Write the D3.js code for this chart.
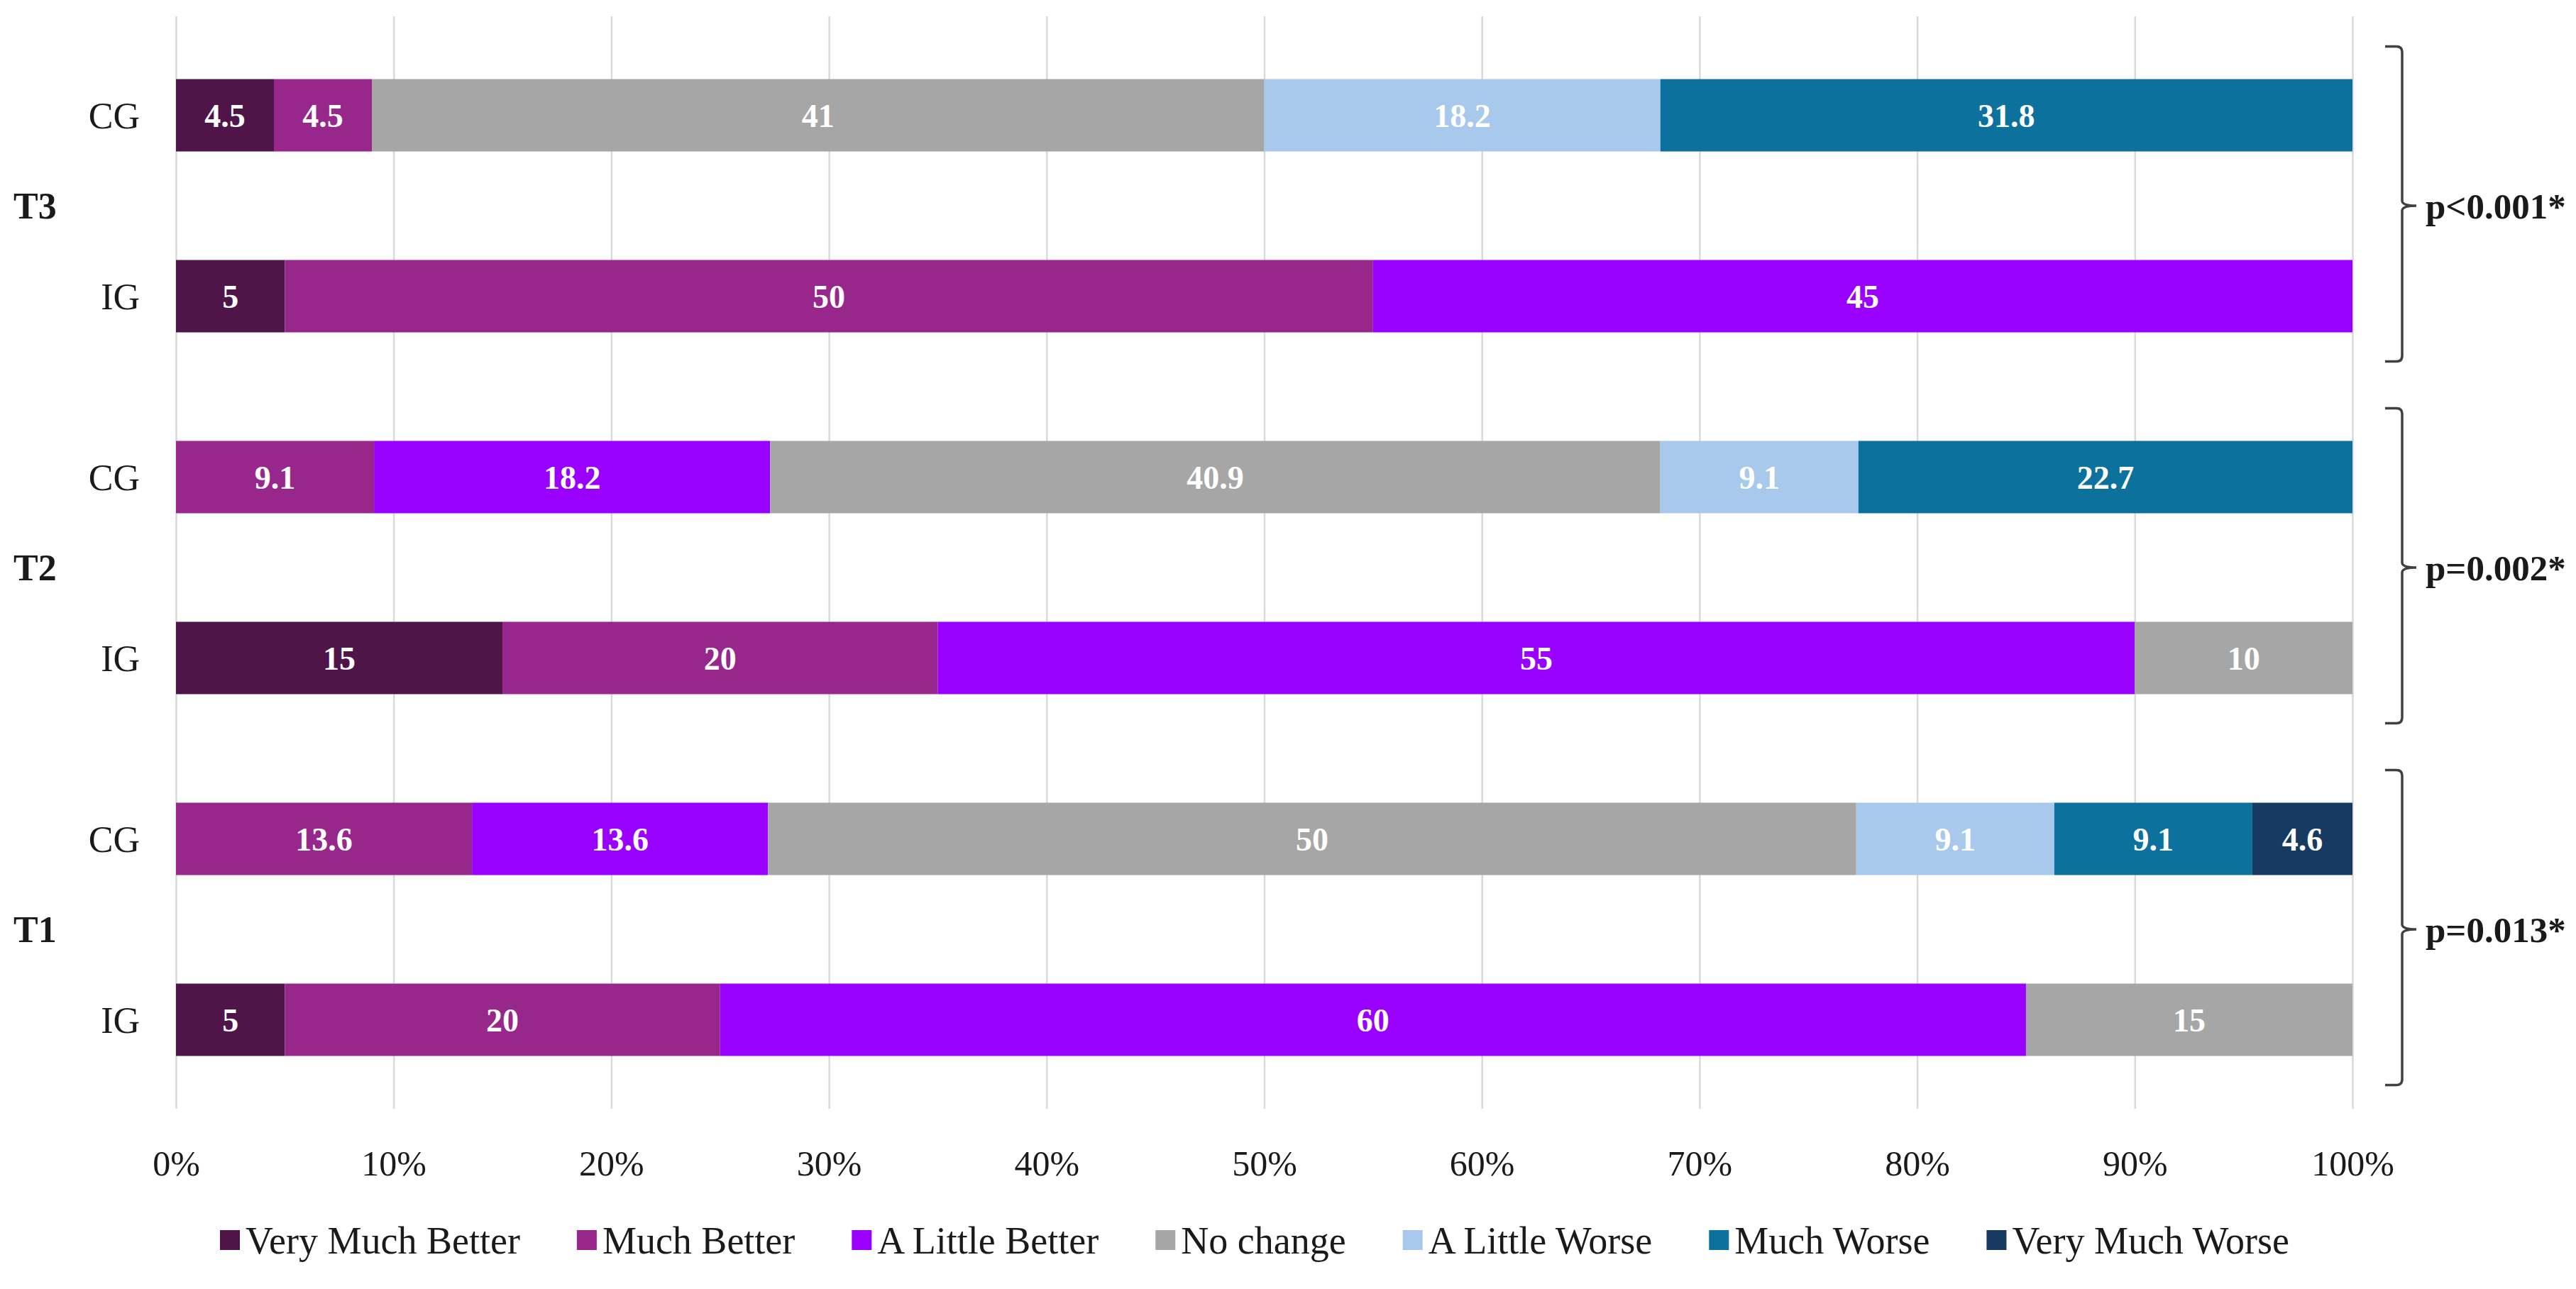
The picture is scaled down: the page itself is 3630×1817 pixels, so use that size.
<!DOCTYPE html>
<html>
<head>
<meta charset="utf-8">
<script src="https://cdn.jsdelivr.net/npm/d3@7"></script>
<style>
  body { margin: 0; background: #fff; }
  text { font-family: 'Liberation Serif', 'DejaVu Serif', serif; }
</style>
</head>
<body>
<div class="canvas"></div>
<script>
// rows from top to bottom
const rows = ['T3 CG', 'T3 IG', 'T2 CG', 'T2 IG', 'T1 CG', 'T1 IG']
const groupLabels = ['CG', 'IG', 'CG', 'IG', 'CG', 'IG']
const times = ['T3', 'T2', 'T1']
const pValues = ['p<0.001*', 'p=0.002*', 'p=0.013*']

const responses = ['Very Much Better', 'Much Better', 'A Little Better', 'No change',
    'A Little Worse', 'Much Worse', 'Very Much Worse']
const colors = ['#4f1549', '#97278b', '#9900ff', '#a6a6a6', '#a8c9eb', '#0c729d', '#163a62']

// percent per row, same order as rows
const veryMuchBetter = [4.5, 5, 0, 15, 0, 5]
const muchBetter = [4.5, 50, 9.1, 20, 13.6, 20]
const aLittleBetter = [0, 45, 18.2, 55, 13.6, 60]
const noChange = [41, 0, 40.9, 10, 50, 15]
const aLittleWorse = [18.2, 0, 9.1, 0, 9.1, 0]
const muchWorse = [31.8, 0, 22.7, 0, 9.1, 0]
const veryMuchWorse = [0, 0, 0, 0, 4.6, 0]

const xTicks = [0, 10, 20, 30, 40, 50, 60, 70, 80, 90, 100]

const seriesValues = [veryMuchBetter, muchBetter, aLittleBetter, noChange,
    aLittleWorse, muchWorse, veryMuchWorse]

// table for d3.stack
const table = rows.map((r, i) => {
    const o = { row: r }
    responses.forEach((k, j) => { o[k] = seriesValues[j][i] })
    return o
})

const width = 3630
const height = 1817

const svg = d3.select('.canvas')
    .append('svg')
    .attr('width', width)
    .attr('height', height)

const gridTop = 23
const gridBottom = 1563

const x = d3.scaleLinear()
    .domain([0, 100])
    .range([248, 3315])

const y = d3.scaleBand()
    .domain(rows)
    .range([35, 1565])
    .paddingInner(0.6)
    .paddingOuter(0.3)

// gridlines + tick labels
const xAxis = d3.axisBottom(x)
    .tickValues(xTicks)
    .tickSize(-(gridBottom - gridTop))
    .tickPadding(58)
    .tickFormat(d => d + '%')

const xAxisGroup = svg.append('g')
    .attr('transform', `translate(0, ${gridBottom})`)
    .call(xAxis)

xAxisGroup.select('.domain').remove()
xAxisGroup.selectAll('line')
    .attr('stroke', '#d9d9d9')
    .attr('stroke-width', 2.5)
xAxisGroup.selectAll('text')
    .attr('font-family', "'Liberation Serif', serif")
    .attr('font-size', 50)
    .attr('fill', '#1a1a1a')

// stacked bars
const stack = d3.stack().keys(responses)
const stacked = stack(table)

const layers = svg.append('g')
    .selectAll('g')
    .data(stacked)
    .enter()
    .append('g')
    .attr('fill', (d, i) => colors[i])

layers.selectAll('rect')
    .data(d => d)
    .enter()
    .append('rect')
    .attr('x', d => x(d[0]))
    .attr('y', d => y(d.data.row))
    .attr('width', d => x(d[1]) - x(d[0]))
    .attr('height', y.bandwidth())

// value labels
layers.selectAll('text')
    .data(d => d.filter(v => v[1] - v[0] > 0).map(v => ({ v: v, key: d.key })))
    .enter()
    .append('text')
    .attr('x', d => (x(d.v[0]) + x(d.v[1])) / 2)
    .attr('y', d => y(d.v.data.row) + y.bandwidth() / 2)
    .attr('dy', '0.35em')
    .attr('text-anchor', 'middle')
    .attr('fill', '#fff')
    .attr('font-weight', 'bold')
    .attr('font-size', 46)
    .text(d => d.v.data[d.key])

// y labels
svg.append('g')
    .selectAll('text')
    .data(rows)
    .enter()
    .append('text')
    .attr('x', 197)
    .attr('y', d => y(d) + y.bandwidth() / 2)
    .attr('dy', '0.35em')
    .attr('text-anchor', 'end')
    .attr('font-size', 52)
    .attr('fill', '#1a1a1a')
    .text((d, i) => groupLabels[i])

const groupMid = t => {
    const a = y(t + ' CG') + y.bandwidth() / 2
    const b = y(t + ' IG') + y.bandwidth() / 2
    return { a, b, mid: (a + b) / 2 }
}

svg.append('g')
    .selectAll('text')
    .data(times)
    .enter()
    .append('text')
    .attr('x', 19)
    .attr('y', d => groupMid(d).mid)
    .attr('dy', '0.35em')
    .attr('font-size', 52)
    .attr('font-weight', 'bold')
    .attr('fill', '#1a1a1a')
    .text(d => d)

// brackets with p values
const bx0 = 3361, bx1 = 3385, bx2 = 3405
const brackets = svg.append('g')
    .selectAll('g')
    .data(times)
    .enter()
    .append('g')

brackets.append('path')
    .attr('fill', 'none')
    .attr('stroke', '#404040')
    .attr('stroke-width', 3.5)
    .attr('d', t => {
        const g = groupMid(t)
        const top = g.a - 97
        const bot = g.b + 92
        const m = g.mid
        return `M${bx0},${top} H${bx1 - 8} Q${bx1},${top} ${bx1},${top + 8} V${m - 7} Q${bx1},${m} ${bx2},${m}` +
            ` M${bx2},${m} Q${bx1},${m} ${bx1},${m + 7} V${bot - 8} Q${bx1},${bot} ${bx1 - 8},${bot} H${bx0}`
    })

brackets.append('text')
    .attr('x', 3418)
    .attr('y', t => groupMid(t).mid)
    .attr('dy', '0.35em')
    .attr('font-size', 51)
    .attr('font-weight', 'bold')
    .attr('fill', '#1a1a1a')
    .text((t, i) => pValues[i])

// legend
const legend = svg.append('g')
    .attr('transform', 'translate(0, 1748)')

const items = legend.selectAll('g')
    .data(responses)
    .enter()
    .append('g')

items.append('rect')
    .attr('y', -14)
    .attr('width', 28)
    .attr('height', 28)
    .attr('fill', (d, i) => colors[i])

items.append('text')
    .attr('x', 36)
    .attr('dy', '0.35em')
    .attr('font-size', 54)
    .attr('fill', '#1a1a1a')
    .text(d => d)

const gap = 80
const widths = []
items.each(function () { widths.push(36 + d3.select(this).select('text').node().getComputedTextLength()) })
const total = d3.sum(widths) + gap * (widths.length - 1)
let cx = 1768 - total / 2
items.attr('transform', (d, i) => {
    const t = `translate(${cx}, 0)`
    cx += widths[i] + gap
    return t
})
</script>
</body>
</html>
